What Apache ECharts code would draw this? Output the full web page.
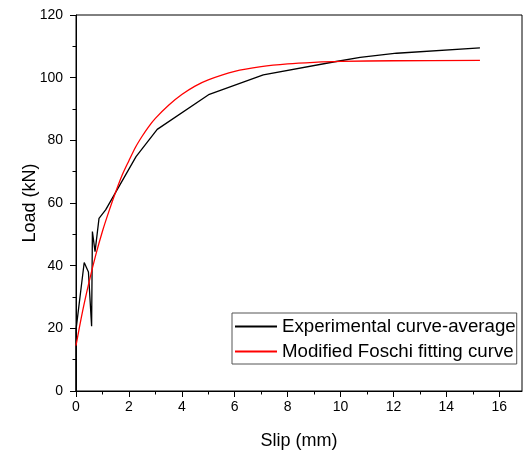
<!DOCTYPE html>
<html>
<head>
<meta charset="utf-8">
<script src="https://cdn.jsdelivr.net/npm/echarts@6/dist/echarts.min.js"></script>
<style>html,body{margin:0;padding:0;background:#fff;}#c{width:525px;height:457px;}</style>
</head>
<body>
<div id="c"></div>
<script>
// Experimental curve-average (slip mm, load kN)
const expSlip = [0, 0, 0.31, 0.47, 0.59, 0.62, 0.72, 0.87, 1.12, 2.27, 3.07, 5.04, 7.08, 9.73, 10.74, 12.12, 15.27];
const expLoad = [0, 19.5, 41, 38, 20.7, 50.9, 44.5, 55.1, 57.8, 74.8, 83.5, 94.7, 100.9, 105, 106.5, 107.8, 109.5];
// Modified Foschi fitting curve
const fitSlip = [0, 0.25, 0.5, 0.75, 1.0, 1.25, 1.5, 1.75, 2.0, 2.25, 2.5, 2.75, 3.0, 3.5, 4.0, 4.5, 5, 6, 7, 8, 9, 10, 12, 15.27];
const fitLoad = [14.5, 25.5, 35, 43.5, 51, 57.5, 63.5, 69, 73.5, 77.8, 81.3, 84.4, 87, 91.2, 94.6, 97.3, 99.3, 102, 103.5, 104.4, 104.9, 105.2, 105.4, 105.5];
const xMajorTicks = [0, 2, 4, 6, 8, 10, 12, 14, 16];
const xMinorTicks = [1, 3, 5, 7, 9, 11, 13, 15];
const seriesNames = ['Experimental curve-average', 'Modified Foschi fitting curve'];

const FONT = 'Liberation Sans, Arial, sans-serif';
const chart = echarts.init(document.getElementById('c'), null, {renderer: 'canvas'});
const pair = (xs, ys) => xs.map((x, i) => [x, ys[i]]);

chart.setOption({
  animation: false,
  backgroundColor: '#fff',
  grid: {left: 76, right: 3, top: 15, bottom: 66, show: true, borderColor: '#000', borderWidth: 1, backgroundColor: 'transparent'},
  legend: {
    orient: 'vertical', left: 232, top: 313,
    itemWidth: 42, itemHeight: 2, icon: 'rect', itemGap: 6,
    padding: [4, 1, 3, 3],
    borderColor: '#555', borderWidth: 1, borderRadius: 0,
    textStyle: {fontSize: 18.7, fontFamily: FONT, color: '#000', lineHeight: 19},
    data: seriesNames
  },
  xAxis: [{
    type: 'value', min: 0, max: 16.86, interval: 2,
    name: 'Slip (mm)', nameLocation: 'middle', nameGap: 41, nameMoveOverlap: false,
    nameTextStyle: {fontSize: 18, fontFamily: FONT, color: '#000'},
    axisLine: {show: true, onZero: false, lineStyle: {color: '#000', width: 1}},
    axisTick: {show: true, inside: false, length: 6, customValues: xMajorTicks, lineStyle: {color: '#000'}},
    axisLabel: {fontSize: 14, fontFamily: FONT, color: '#000', margin: 9, customValues: xMajorTicks},
    splitLine: {show: false}
  }, {
    type: 'value', min: 0, max: 16.86, position: 'bottom', gridIndex: 0,
    axisLine: {show: false},
    axisTick: {show: true, inside: false, length: 3.5, customValues: xMinorTicks, lineStyle: {color: '#000'}},
    axisLabel: {show: false},
    splitLine: {show: false}
  }],
  yAxis: {
    type: 'value', min: 0, max: 120, interval: 20,
    name: 'Load (kN)', nameLocation: 'middle', nameGap: 37, nameMoveOverlap: false,
    nameTextStyle: {fontSize: 18, fontFamily: FONT, color: '#000'},
    axisLine: {show: true, onZero: false, lineStyle: {color: '#000', width: 1}},
    axisTick: {show: true, inside: false, length: 6, lineStyle: {color: '#000'}},
    minorTick: {show: true, splitNumber: 2, length: 3.5, lineStyle: {color: '#000'}},
    axisLabel: {fontSize: 14, fontFamily: FONT, color: '#000', margin: 13},
    splitLine: {show: false}
  },
  series: [{
    name: seriesNames[0], type: 'line', data: pair(expSlip, expLoad),
    showSymbol: false, symbol: 'none', smooth: false,
    lineStyle: {color: '#000', width: 1.3}, itemStyle: {color: '#000'}
  }, {
    name: seriesNames[1], type: 'line', data: pair(fitSlip, fitLoad),
    showSymbol: false, symbol: 'none', smooth: 0.3,
    lineStyle: {color: '#ff0000', width: 1.3}, itemStyle: {color: '#ff0000'}
  }]
});
</script>
</body>
</html>
